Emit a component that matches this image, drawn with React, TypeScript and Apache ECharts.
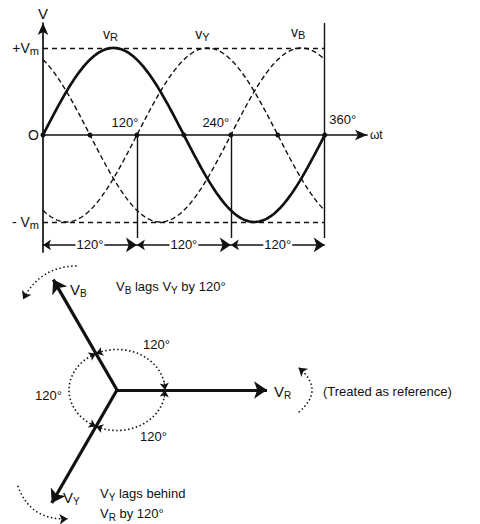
import React, { useEffect, useRef } from "react";
import * as echarts from "echarts";

// ---------------- data ----------------
const phaseLabels = ["R", "Y", "B"];
const phaseLagDeg = [0, 120, 240];
const peakVoltage = 1; // Vm (per unit)
const sampleStepDeg = 2;
const zeroCrossingsDeg = [0, 60, 120, 180, 240, 300, 360];
const angleTickValues = [120, 240, 360];
const angleTickLabels = ["120°", "240°", "360°"];
const spanStartsDeg = [0, 120, 240];
const spanEndsDeg = [120, 240, 360];
const spanLabels = ["120°", "120°", "120°"];
const levelValues = [1, 0, -1];
const levelLabels = ["+V{s|m}", "O", "- V{s|m}"];

const phasorNames = ["R", "Y", "B"];
const phasorAngleDeg = [0, -120, 120];
const phasorMagnitude = [1.0, 0.87, 0.85];

const rotationStartDeg = [108, -7, 224];
const rotationEndDeg = [136, 7, 249];
const rotationRadius = [0.87, 1.22, 0.92];

// ---------------- styling / layout ----------------
const FONT = '"Liberation Sans", Arial, Helvetica, sans-serif';
const INK = "#111111";
const X_MAX = 414;
const Y_MAX = 1.287;
const Y_MIN = -1.345;
const DROP_END = -1.184;
const SPAN_Y = -1.264;
const ELLIPSE_RX = 0.32;
const ELLIPSE_RY = 0.27;

const rad = (d: number) => (d * Math.PI) / 180;

const subRich = (size: number) => ({
  s: { fontSize: size, lineHeight: size, verticalAlign: "bottom", color: INK, fontFamily: FONT },
});

function wave(lag: number) {
  const pts: number[][] = [];
  for (let d = 0; d <= 360; d += sampleStepDeg) {
    pts.push([d, peakVoltage * Math.sin(rad(d - lag))]);
  }
  return pts;
}

function ellipseR(phi: number) {
  const c = Math.cos(rad(phi));
  const s = Math.sin(rad(phi));
  return 1 / Math.sqrt((c * c) / (ELLIPSE_RX * ELLIPSE_RX) + (s * s) / (ELLIPSE_RY * ELLIPSE_RY));
}
function ellipsePt(phi: number) {
  const r = ellipseR(phi);
  return [r * Math.cos(rad(phi)), r * Math.sin(rad(phi))];
}
const polarPt = (deg: number, r: number) => [r * Math.cos(rad(deg)), r * Math.sin(rad(deg))];

const labelOffsets: Record<number, number[]> = { 120: [-12, 0], 240: [-15, 0], 360: [18, -3] };
const curveLabelOffsets = [[-3, 0], [-5, 0], [-3, -2]];
const rotationCurveness = [-0.3, -0.6, -0.37];

function buildOption() {
  const series: any[] = [];

  // waveforms
  phaseLabels.forEach((p, i) => {
    series.push({
      type: "line",
      name: "v" + p,
      xAxisIndex: 0,
      yAxisIndex: 0,
      data: wave(phaseLagDeg[i]),
      showSymbol: false,
      symbol: "none",
      lineStyle: i === 0 ? { color: INK, width: 2.7 } : { color: INK, width: 1.4, type: [5, 3] },
      z: i === 0 ? 5 : 4,
    });
  });

  // ±Vm dashed levels
  series.push({
    type: "lines",
    coordinateSystem: "cartesian2d",
    xAxisIndex: 0,
    yAxisIndex: 0,
    data: [
      { coords: [[0, peakVoltage], [360, peakVoltage]] },
      { coords: [[0, -peakVoltage], [360, -peakVoltage]] },
    ],
    lineStyle: { color: INK, width: 1.3, type: [5, 4], opacity: 1 },
    symbol: ["none", "none"],
  });

  // vertical drop lines
  series.push({
    type: "lines",
    coordinateSystem: "cartesian2d",
    xAxisIndex: 0,
    yAxisIndex: 0,
    data: [
      { coords: [[120, 0], [120, DROP_END]] },
      { coords: [[240, 0], [240, DROP_END]] },
      { coords: [[360, Y_MAX], [360, DROP_END]] },
    ],
    lineStyle: { color: INK, width: 1.4, opacity: 1 },
    symbol: ["none", "none"],
  });

  // 120° span arrows
  series.push({
    type: "lines",
    coordinateSystem: "cartesian2d",
    xAxisIndex: 0,
    yAxisIndex: 0,
    data: spanStartsDeg.map((s, i) => ({ coords: [[s, SPAN_Y], [spanEndsDeg[i], SPAN_Y]] })),
    lineStyle: { color: INK, width: 1.7, opacity: 1 },
    symbol: ["arrow", "arrow"],
    symbolSize: [8, 11],
  });
  series.push({
    type: "scatter",
    xAxisIndex: 0,
    yAxisIndex: 0,
    symbolSize: 0,
    itemStyle: { opacity: 1 },
    data: spanStartsDeg.map((s, i) => ({ value: [(s + spanEndsDeg[i]) / 2, SPAN_Y], name: spanLabels[i] })),
    label: {
      show: true,
      position: "inside",
      formatter: (p: any) => p.name,
      color: INK,
      opacity: 1,
      fontSize: 13,
      fontFamily: FONT,
      backgroundColor: "#fff",
      padding: [0, 1],
    },
    z: 6,
  });

  // zero crossing dots + angle labels
  series.push({
    type: "scatter",
    xAxisIndex: 0,
    yAxisIndex: 0,
    symbolSize: 5,
    itemStyle: { color: INK, opacity: 1 },
    data: zeroCrossingsDeg.map((d) => {
      const idx = angleTickValues.indexOf(d);
      return {
        value: [d, 0],
        label: idx >= 0
          ? {
              show: true,
              position: "top",
              distance: 3,
              offset: labelOffsets[d],
              formatter: angleTickLabels[idx],
              color: INK,
              opacity: 1,
              fontSize: 13,
              fontFamily: FONT,
            }
          : { show: false },
      };
    }),
    z: 7,
  });

  // curve names
  series.push({
    type: "scatter",
    xAxisIndex: 0,
    yAxisIndex: 0,
    symbolSize: 0,
    itemStyle: { opacity: 1 },
    data: phaseLabels.map((p, i) => ({
      value: [phaseLagDeg[i] + 90, peakVoltage],
      label: { offset: curveLabelOffsets[i] },
      name: "v{s|" + p + "}",
    })),
    label: {
      show: true,
      position: "top",
      distance: 5,
      formatter: (q: any) => q.name,
      color: INK,
      opacity: 1,
      fontSize: 14,
      lineHeight: 17,
      fontFamily: FONT,
      rich: subRich(11),
    },
    z: 7,
  });

  // ---------- phasor diagram ----------
  series.push({
    type: "lines",
    coordinateSystem: "cartesian2d",
    xAxisIndex: 1,
    yAxisIndex: 1,
    data: phasorNames.map((n, i) => ({
      name: n,
      coords: [[0, 0], polarPt(phasorAngleDeg[i], phasorMagnitude[i])],
    })),
    lineStyle: { color: INK, width: 3.2, opacity: 1 },
    symbol: ["none", "arrow"],
    symbolSize: [10, 13],
    z: 5,
  });

  // dotted ellipse (angle arcs)
  const ell: number[][] = [];
  for (let a = 0; a <= 360; a += 3) ell.push(ellipsePt(a));
  series.push({
    type: "line",
    xAxisIndex: 1,
    yAxisIndex: 1,
    data: ell,
    showSymbol: false,
    symbol: "none",
    lineStyle: { color: INK, width: 1.6, type: [1.5, 2.5] },
  });

  // arc arrowheads at phasor crossings
  const heads: any[] = [];
  phasorAngleDeg.forEach((a) => {
    [a + 9, a - 9].forEach((from) => {
      heads.push({ coords: [ellipsePt(from), ellipsePt(a)] });
    });
  });
  series.push({
    type: "lines",
    coordinateSystem: "cartesian2d",
    xAxisIndex: 1,
    yAxisIndex: 1,
    data: heads,
    lineStyle: { color: INK, width: 1, opacity: 1 },
    symbol: ["none", "arrow"],
    symbolSize: [6, 7],
    z: 6,
  });

  // rotation dotted curved arrows
  series.push({
    type: "lines",
    coordinateSystem: "cartesian2d",
    xAxisIndex: 1,
    yAxisIndex: 1,
    data: rotationStartDeg.map((s, i) => ({
      coords: [polarPt(s, rotationRadius[i]), polarPt(rotationEndDeg[i], rotationRadius[i])],
      lineStyle: { curveness: rotationCurveness[i] },
    })),
    lineStyle: { color: INK, width: 1.5, type: [1.5, 2.5], opacity: 1 },
    symbol: ["none", "arrow"],
    symbolSize: [7, 8],
  });

  const txt = (x: number, y: number, text: string, size = 13) => ({
    type: "text",
    x,
    y,
    style: {
      text,
      fill: INK,
      fontSize: size,
      fontFamily: FONT,
      lineHeight: 18,
      align: "left",
      verticalAlign: "middle",
      rich: subRich(10),
    },
  });

  return {
    animation: false,
    backgroundColor: "#fff",
    textStyle: { fontFamily: FONT },
    grid: [
      { left: 43, top: 23, width: 324, height: 229, containLabel: false, outerBoundsMode: "none" },
      { left: 0, top: 260, width: 480, height: 264, containLabel: false, outerBoundsMode: "none" },
    ],
    xAxis: [
      {
        type: "value",
        gridIndex: 0,
        min: 0,
        max: X_MAX,
        name: "ωt",
        nameLocation: "end",
        nameGap: 3,
        nameTextStyle: { color: INK, fontSize: 12, fontFamily: FONT },
        axisLine: { show: true, onZero: true, symbol: ["none", "arrow"], symbolSize: [8, 12], lineStyle: { color: INK, width: 1.7 } },
        axisTick: { show: false },
        axisLabel: { show: false },
        splitLine: { show: false },
      },
      { type: "value", gridIndex: 1, min: -0.78, max: 2.42, show: false, splitLine: { show: false } },
    ],
    yAxis: [
      {
        type: "value",
        gridIndex: 0,
        min: Y_MIN,
        max: Y_MAX,
        name: "V",
        nameLocation: "end",
        nameGap: 2,
        nameTextStyle: { color: INK, fontSize: 15, fontFamily: FONT, align: "center" },
        axisLine: { show: true, onZero: false, symbol: ["none", "arrow"], symbolSize: [8, 12], lineStyle: { color: INK, width: 1.7 } },
        axisTick: { show: false },
        splitLine: { show: false },
        axisLabel: {
          show: true,
          customValues: levelValues,
          margin: 4,
          formatter: (v: number) => levelLabels[levelValues.indexOf(v)] ?? "",
          color: INK,
          fontSize: 14,
          lineHeight: 18,
          fontFamily: FONT,
          rich: subRich(11),
        },
      },
      { type: "value", gridIndex: 1, min: -0.8933, max: 0.8667, show: false, splitLine: { show: false } },
    ],
    series,
    graphic: [
      txt(70, 289, "V{s|B}", 15),
      txt(116, 286, "V{s|B} lags V{s|Y} by 120°"),
      txt(143, 344, "120°"),
      txt(35, 395, "120°"),
      txt(140, 436, "120°"),
      txt(274, 391, "V{s|R}", 15),
      txt(323, 391, "(Treated as reference)"),
      txt(63, 497, "V{s|Y}", 15),
      txt(100, 493, "V{s|Y} lags behind"),
      txt(100, 513, "V{s|R} by 120°"),
    ],
  };
}

export default function App() {
  const ref = useRef<HTMLDivElement>(null);
  useEffect(() => {
    if (!ref.current) return;
    const chart = echarts.init(ref.current, undefined, { renderer: "svg" });
    chart.setOption(buildOption() as any);
    return () => chart.dispose();
  }, []);
  return (
    <div
      ref={ref}
      style={{ position: "fixed", left: 0, top: 0, width: 480, height: 524, background: "#fff" }}
    />
  );
}
